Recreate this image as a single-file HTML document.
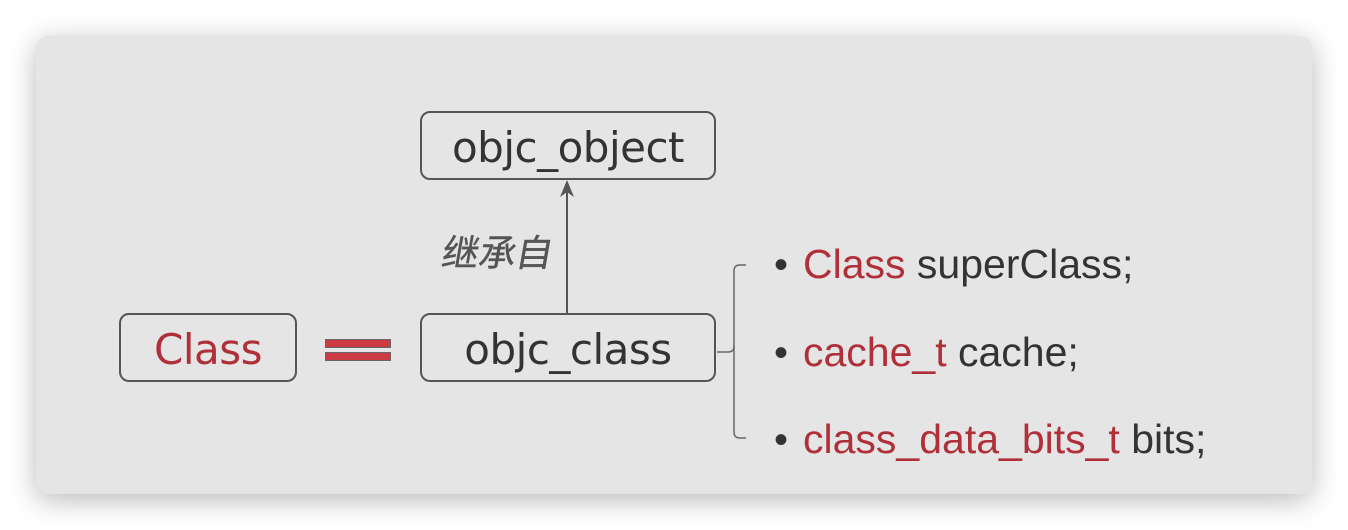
<!DOCTYPE html>
<html><head><meta charset="utf-8"><style>
html,body{margin:0;padding:0;background:#fff;width:1348px;height:530px;overflow:hidden;position:relative}
.card{position:absolute;left:36px;top:36px;width:1276px;height:458px;background:#e5e5e5;border-radius:12px;box-shadow:0 6px 28px rgba(0,0,0,0.28)}
.box{position:absolute;box-sizing:border-box;border:2px solid #555;border-radius:10px;display:flex;align-items:center;justify-content:center;font-family:"DejaVu Sans","Liberation Sans",sans-serif;font-size:42px;color:#333;letter-spacing:-0.5px;padding-top:4px}
.red{color:#b0303a}
.bar{position:absolute;left:325px;width:66px;height:9px;background:#cc3b44;border:1px solid #666;box-sizing:border-box}
.li{position:absolute;left:774px;font-family:"Liberation Sans",Arial,sans-serif;font-size:41px;color:#333;white-space:nowrap}
.li b{font-weight:normal;display:inline-block;width:29px;font-size:40px}
</style></head><body>
<div class="card"></div>
<div class="box" style="left:420px;top:111px;width:296px;height:69px">objc_object</div>
<div class="box red" style="left:119px;top:313px;width:178px;height:69px">Class</div>
<div class="box" style="left:420px;top:313px;width:296px;height:69px">objc_class</div>
<div class="bar" style="top:339px"></div>
<div class="bar" style="top:352px"></div>
<svg style="position:absolute;left:0;top:0" width="1348" height="530">
<line x1="567" y1="313" x2="567" y2="184" stroke="#555" stroke-width="2"/>
<path d="M567 180 L560 197 L567 192 L574 197 Z" fill="#555"/>
<path d="M746 265 H740 Q734 265 734 271 V432 Q734 438 740 438 H746" fill="none" stroke="#666" stroke-width="1.5"/>
<path d="M717 352 H728 Q734 352 734 346" fill="none" stroke="#666" stroke-width="1.5"/>
<text x="440" y="266" font-family="Noto Sans CJK SC, sans-serif" font-size="37" fill="#555" stroke="#555" stroke-width="0.4" transform="skewX(-10) translate(47,0)">继承自</text>
</svg>
<div class="li" style="top:241px"><b>•</b><span class="red">Class</span> superClass;</div>
<div class="li" style="top:329px"><b>•</b><span class="red">cache_t</span> cache;</div>
<div class="li" style="top:416px"><b>•</b><span class="red">class_data_bits_t</span> bits;</div>
</body></html>
